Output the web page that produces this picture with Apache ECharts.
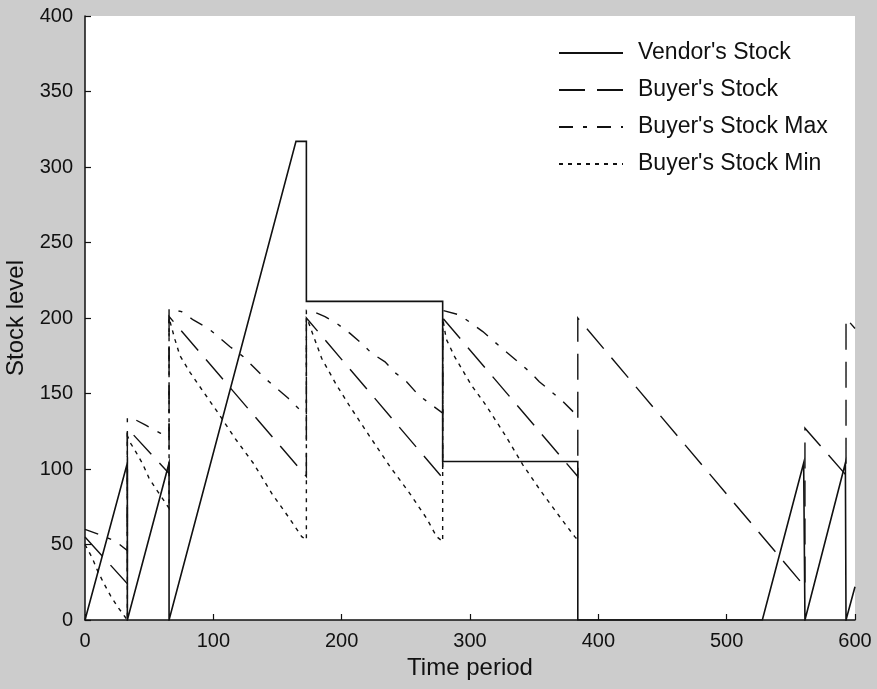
<!DOCTYPE html>
<html>
<head>
<meta charset="utf-8">
<script src="https://cdn.jsdelivr.net/npm/echarts@6/dist/echarts.min.js"></script>
<style>
  html, body { margin: 0; padding: 0; background: #cccccc; }
  #chart { width: 877px; height: 689px; }
</style>
</head>
<body>
<div id="chart"></div>
<script>
// Series names, in legend order
const seriesNames = ["Vendor's Stock", "Buyer's Stock", "Buyer's Stock Max", "Buyer's Stock Min"];

// Axis ticks
const timeTicks = { min: 0, max: 600, step: 100 };
const levelTicks = { min: 0, max: 400, step: 50 };

// [time period, stock level]; a repeated time marks a replenishment jump
const vendorStock = [
  [0, 0], [33, 104], [33, 0], [65.5, 104], [65.5, 0],
  [164.4, 317], [172.5, 317], [172.5, 211], [278.7, 211], [278.7, 105],
  [384, 105], [384, 0], [527.8, 0], [560, 104], [561, 104], [561, 0],
  [592.5, 104], [593, 104], [593, 0], [600, 22]
];

const buyerStock = [
  [0, 55], [33, 24], [33, 127], [65.5, 97], [65.5, 201],
  [172.5, 95], [172.5, 200], [278.7, 94], [278.7, 200], [384, 95],
  [384, 200], [561, 22], [561, 127], [593, 96], [593, 200], [600, 193]
];

const buyerStockMax = [
  [0, 60], [14.8, 55.5], [23.9, 52], [33, 46],
  [33, 134], [39.5, 132.5], [47.3, 129], [59, 123.6], [65.5, 120.5],
  [65.5, 206], [75.3, 204.2], [84.4, 198.7], [96, 193.2], [103.9, 187.6], [113, 181],
  [123.4, 174.4], [131.2, 167.7], [139, 161], [149.4, 153.4], [158.4, 146.8],
  [166.2, 140.2], [172.5, 136],
  [172.5, 205], [178, 204.2], [187, 200.9], [196, 196.5], [206.5, 189.8], [215.6, 183.2],
  [223.4, 176.6], [233.8, 171], [241.6, 163.8], [250.6, 157.8], [259.8, 149],
  [270.1, 142.4], [278.7, 137],
  [278.7, 205], [292, 202], [301, 196.5], [310, 191], [319, 184.3], [328, 177.7],
  [337.4, 171], [346.5, 164.4], [354, 157.8], [363.4, 151.2], [372.5, 144.6],
  [380.3, 138], [384, 135.5]
];

const buyerStockMin = [
  [0, 50], [5.7, 41], [9.6, 33], [14.8, 24], [20, 16], [25.2, 9], [33, 0],
  [33, 122], [35.6, 117], [39.5, 111.5], [44.7, 103.8], [49.9, 94], [55.1, 87],
  [60.3, 80.6], [65.5, 74],
  [65.5, 200], [70, 186], [74, 175], [81.8, 164], [94.8, 148], [103.9, 136.9],
  [116.9, 120.3], [131.2, 103.8], [145.5, 83.9], [158.4, 68.4], [168.9, 55.2], [172.5, 53],
  [172.5, 200], [174, 197.5], [184.4, 173.3], [196, 155.6], [206.5, 141.3], [222, 121.4],
  [237.7, 101.5], [253, 83.9], [266.2, 67.3], [274, 55.2], [278.7, 52],
  [278.7, 200], [281.5, 186], [288, 174.4], [301, 155.6], [311.4, 143.5], [327, 123],
  [341.3, 102.6], [355.5, 85], [369.9, 68.4], [381.6, 55.2], [384, 53]
];

const font = "'Liberation Sans', Arial, Helvetica, sans-serif";
const ink = '#111111';

function stockLine(name, data, dash, width, z) {
  return {
    name: name,
    type: 'line',
    data: data,
    symbol: 'none',
    showSymbol: false,
    z: z,
    lineStyle: { color: ink, width: width, type: dash, cap: 'butt', join: 'miter' },
    itemStyle: { color: ink },
    emphasis: { disabled: true }
  };
}

const chart = echarts.init(document.getElementById('chart'), null, { renderer: 'canvas' });

chart.setOption({
  backgroundColor: '#cccccc',
  animation: false,
  grid: {
    left: 85, right: 22, top: 16, bottom: 69,
    outerBoundsMode: 'none',
    containLabel: false,
    show: true, backgroundColor: '#ffffff', borderWidth: 0
  },
  legend: {
    data: seriesNames,
    orient: 'vertical',
    left: 558,
    top: 41,
    padding: 0,
    itemWidth: 64,
    itemHeight: 14,
    itemGap: 13,
    selectedMode: false,
    // line samples only, no marker dot
    itemStyle: { opacity: 0 },
    textStyle: { fontFamily: font, fontSize: 23, color: ink, lineHeight: 24, padding: [0, 0, 0, 10] }
  },
  xAxis: {
    type: 'value',
    min: timeTicks.min, max: timeTicks.max, interval: timeTicks.step,
    name: 'Time period',
    nameLocation: 'middle',
    nameGap: 36,
    nameTextStyle: { fontFamily: font, fontSize: 24, color: ink },
    axisLine: { show: true, onZero: false, lineStyle: { color: ink, width: 1.5 } },
    axisTick: { show: true, inside: true, length: 6, lineStyle: { color: ink, width: 1.2 } },
    axisLabel: { fontFamily: font, fontSize: 20, color: ink, margin: 11 },
    splitLine: { show: false }
  },
  yAxis: {
    type: 'value',
    min: levelTicks.min, max: levelTicks.max, interval: levelTicks.step,
    name: 'Stock level',
    nameLocation: 'middle',
    nameGap: 52,
    nameTextStyle: { fontFamily: font, fontSize: 24, color: ink },
    axisLine: { show: true, onZero: false, lineStyle: { color: ink, width: 1.5 } },
    axisTick: { show: true, inside: true, length: 6, lineStyle: { color: ink, width: 1.2 } },
    axisLabel: { fontFamily: font, fontSize: 20, color: ink, margin: 12 },
    splitLine: { show: false }
  },
  series: [
    stockLine(seriesNames[0], vendorStock, 'solid', 1.6, 4),
    stockLine(seriesNames[1], buyerStock, [26, 12], 1.4, 3),
    stockLine(seriesNames[2], buyerStockMax, [14, 10, 4, 10], 1.4, 2),
    stockLine(seriesNames[3], buyerStockMin, [4, 5], 1.4, 1)
  ]
});
</script>
</body>
</html>
